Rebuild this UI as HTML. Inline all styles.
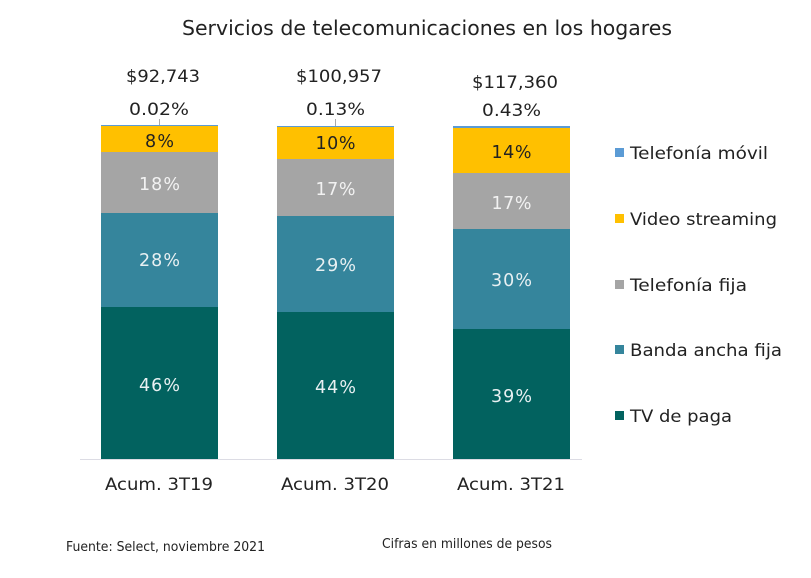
<!DOCTYPE html>
<html><head><meta charset="utf-8"><style>
html,body{margin:0;padding:0;background:#fff;}
svg{display:block;}
text{font-family:"DejaVu Sans","Liberation Sans",sans-serif;}
</style></head><body>
<svg width="811" height="578" viewBox="0 0 811 578" xmlns="http://www.w3.org/2000/svg">
<rect width="811" height="578" fill="#fff"/>
<text x="182" y="35" font-size="20" fill="#222" textLength="490" lengthAdjust="spacingAndGlyphs">Servicios de telecomunicaciones en los hogares</text>

<!-- axis -->
<line x1="80" y1="459.5" x2="582" y2="459.5" stroke="#dcdce4" stroke-width="1"/>

<!-- bar 1 -->
<rect x="101" y="125" width="117" height="1" fill="#5b9bd5"/>
<rect x="101" y="126" width="117" height="26" fill="#ffc000"/>
<rect x="101" y="152" width="117" height="61" fill="#a5a5a5"/>
<rect x="101" y="213" width="117" height="94" fill="#35859c"/>
<rect x="101" y="307" width="117" height="152" fill="#02625f"/>
<!-- bar 2 -->
<rect x="277" y="126" width="117" height="1" fill="#5b9bd5"/>
<rect x="277" y="127" width="117" height="32" fill="#ffc000"/>
<rect x="277" y="159" width="117" height="57" fill="#a5a5a5"/>
<rect x="277" y="216" width="117" height="96" fill="#35859c"/>
<rect x="277" y="312" width="117" height="147" fill="#02625f"/>
<!-- bar 3 -->
<rect x="453" y="126" width="117" height="2" fill="#5b9bd5"/>
<rect x="453" y="128" width="117" height="45" fill="#ffc000"/>
<rect x="453" y="173" width="117" height="56" fill="#a5a5a5"/>
<rect x="453" y="229" width="117" height="100" fill="#35859c"/>
<rect x="453" y="329" width="117" height="130" fill="#02625f"/>

<!-- ticks -->
<line x1="159.5" y1="119" x2="159.5" y2="125" stroke="#aaa" stroke-width="1"/>
<line x1="335.5" y1="119" x2="335.5" y2="126" stroke="#aaa" stroke-width="1"/>

<!-- totals -->
<g font-size="17" fill="#222" text-anchor="middle">
<text x="163" y="82" textLength="74" lengthAdjust="spacingAndGlyphs">$92,743</text>
<text x="159" y="115" textLength="60" lengthAdjust="spacingAndGlyphs">0.02%</text>
<text x="339" y="82" textLength="86" lengthAdjust="spacingAndGlyphs">$100,957</text>
<text x="335.5" y="115" textLength="59" lengthAdjust="spacingAndGlyphs">0.13%</text>
<text x="515" y="88" textLength="86" lengthAdjust="spacingAndGlyphs">$117,360</text>
<text x="511.5" y="116" textLength="59" lengthAdjust="spacingAndGlyphs">0.43%</text>
</g>

<!-- segment labels -->
<g font-size="17.5" text-anchor="middle" lengthAdjust="spacingAndGlyphs">
<text x="159.5" y="147" fill="#222" textLength="29">8%</text>
<text x="159.5" y="190" fill="#f2f2f2" textLength="41">18%</text>
<text x="159.5" y="266" fill="#e8f0f2" textLength="41">28%</text>
<text x="159.5" y="391" fill="#e8f0f2" textLength="41">46%</text>
<text x="335.5" y="149" fill="#222" textLength="40">10%</text>
<text x="335.5" y="195" fill="#f2f2f2" textLength="40">17%</text>
<text x="335.5" y="271" fill="#e8f0f2" textLength="41">29%</text>
<text x="335.5" y="393" fill="#e8f0f2" textLength="41">44%</text>
<text x="511.5" y="158" fill="#222" textLength="40">14%</text>
<text x="511.5" y="209" fill="#f2f2f2" textLength="40">17%</text>
<text x="511.5" y="286" fill="#e8f0f2" textLength="41">30%</text>
<text x="511.5" y="402" fill="#e8f0f2" textLength="41">39%</text>
</g>

<!-- x labels -->
<g font-size="17" fill="#222" text-anchor="middle">
<text x="159" y="490" textLength="108" lengthAdjust="spacingAndGlyphs">Acum. 3T19</text>
<text x="335" y="490" textLength="108" lengthAdjust="spacingAndGlyphs">Acum. 3T20</text>
<text x="511" y="490" textLength="108" lengthAdjust="spacingAndGlyphs">Acum. 3T21</text>
</g>

<!-- legend -->
<rect x="615" y="148" width="9" height="9" fill="#5b9bd5"/>
<rect x="615" y="214" width="9" height="9" fill="#ffc000"/>
<rect x="615" y="280" width="9" height="9" fill="#a5a5a5"/>
<rect x="615" y="345" width="9" height="9" fill="#35859c"/>
<rect x="615" y="411" width="9" height="9" fill="#02625f"/>
<g font-size="17" fill="#222">
<text x="630" y="159" textLength="138" lengthAdjust="spacingAndGlyphs">Telefonía móvil</text>
<text x="630" y="225" textLength="147" lengthAdjust="spacingAndGlyphs">Video streaming</text>
<text x="630" y="291" textLength="117" lengthAdjust="spacingAndGlyphs">Telefonía fija</text>
<text x="630" y="356" textLength="152" lengthAdjust="spacingAndGlyphs">Banda ancha fija</text>
<text x="630" y="422" textLength="102" lengthAdjust="spacingAndGlyphs">TV de paga</text>
</g>

<!-- footer -->
<text x="66" y="551" font-size="13" fill="#222" textLength="199" lengthAdjust="spacingAndGlyphs">Fuente: Select, noviembre 2021</text>
<text x="382" y="548" font-size="13" fill="#222" textLength="170" lengthAdjust="spacingAndGlyphs">Cifras en millones de pesos</text>
</svg>
</body></html>
